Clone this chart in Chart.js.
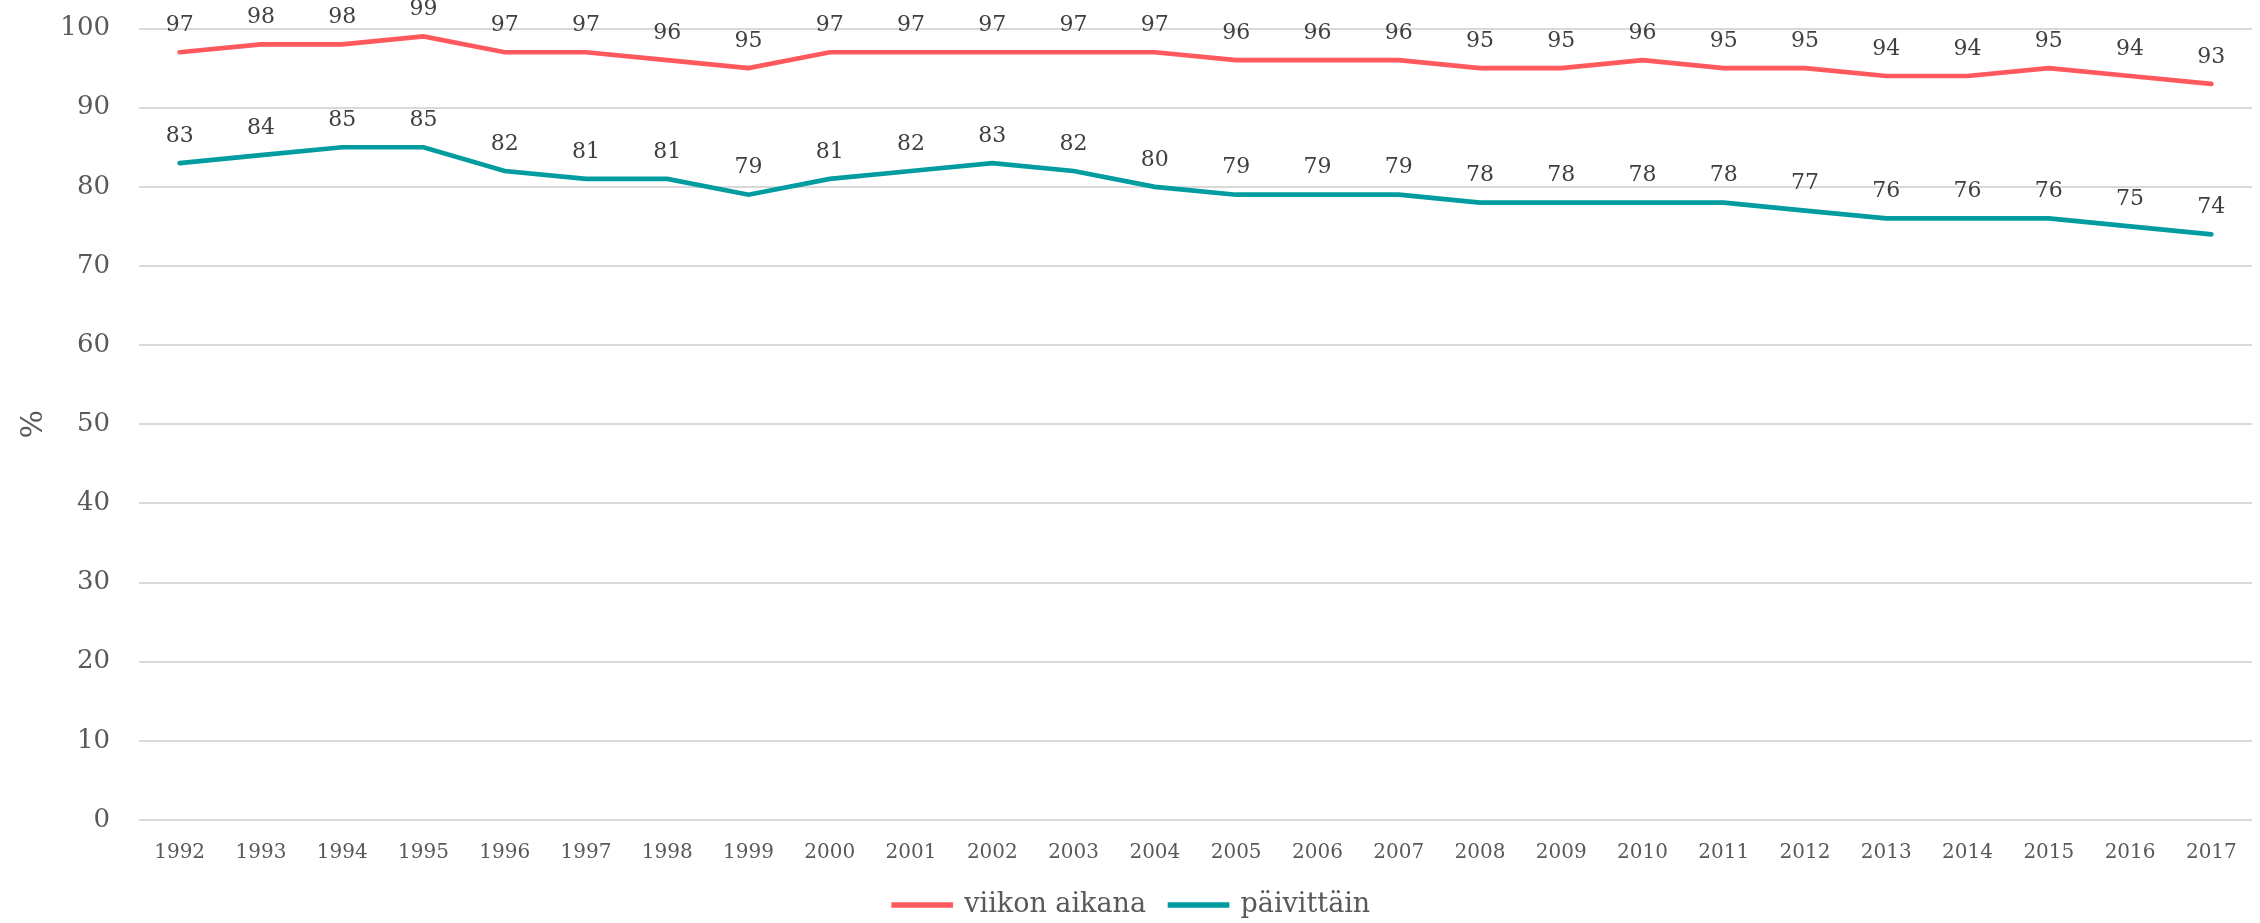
<!DOCTYPE html>
<html>
<head>
<meta charset="utf-8">
<script src="https://cdn.jsdelivr.net/npm/chart.js@4/dist/chart.umd.min.js"></script>
<style>
  html, body { margin: 0; padding: 0; background: #fff; }
  #wrap { width: 2260px; height: 923px; }
</style>
</head>
<body>
<div id="wrap"><canvas id="myChart"></canvas></div>
<script>
// Data
var vuodet = ['1992','1993','1994','1995','1996','1997','1998','1999','2000','2001','2002','2003','2004',
              '2005','2006','2007','2008','2009','2010','2011','2012','2013','2014','2015','2016','2017'];
var viikonAikana = [97,98,98,99,97,97,96,95,97,97,97,97,97,96,96,96,95,95,96,95,95,94,94,95,94,93];
var paivittain   = [83,84,85,85,82,81,81,79,81,82,83,82,80,79,79,79,78,78,78,78,77,76,76,76,75,74];
var yTicks = [0,10,20,30,40,50,60,70,80,90,100];

var numFont = 'DejaVu Serif';

// labels above every point
var valueLabels = {
  id: 'valueLabels',
  afterDatasetsDraw: function (chart) {
    var ctx = chart.ctx;
    ctx.save();
    ctx.font = '22px "' + numFont + '"';
    ctx.fillStyle = '#404040';
    ctx.textAlign = 'center';
    ctx.textBaseline = 'middle';
    chart.data.datasets.forEach(function (ds, i) {
      var meta = chart.getDatasetMeta(i);
      meta.data.forEach(function (pt, j) {
        ctx.fillText(String(ds.data[j]), pt.x, pt.y - 27);
      });
    });
    ctx.restore();
  }
};

// nudge the legend to where it sits in the original
var legendShift = {
  id: 'legendShift',
  afterLayout: function (chart) {
    var lg = chart.legend;
    lg.left += 6;
    lg.right += 6;
    lg.top += 5.5;
    lg.bottom += 5.5;
  }
};

var ctx = document.getElementById('myChart').getContext('2d');
var myChart = new Chart(ctx, {
  type: 'line',
  data: {
    labels: vuodet,
    datasets: [{
      label: 'viikon aikana',
      data: viikonAikana,
      borderColor: '#ff585d',
      backgroundColor: '#ff585d',
      borderWidth: 4.7,
      borderCapStyle: 'round',
      pointRadius: 0,
      tension: 0
    }, {
      label: 'päivittäin',
      data: paivittain,
      borderColor: '#009ca0',
      backgroundColor: '#009ca0',
      borderWidth: 4.7,
      borderCapStyle: 'round',
      pointRadius: 0,
      tension: 0
    }]
  },
  options: {
    responsive: true,
    maintainAspectRatio: false,
    animation: false,
    layout: { padding: { top: 28.5, left: 0, right: 8, bottom: 0 } },
    plugins: {
      tooltip: { enabled: false },
      legend: {
        position: 'bottom',
        labels: {
          boxWidth: 57,
          boxHeight: 1,
          padding: 24,
          color: '#595959',
          font: { family: numFont, size: 27 }
        }
      }
    },
    scales: {
      x: {
        offset: true,
        grid: { display: false },
        border: { display: false },
        ticks: {
          color: '#595959',
          font: { family: numFont, size: 20 },
          maxRotation: 0,
          autoSkip: false,
          padding: 13
        },
        afterFit: function (s) { s.height = 42; }
      },
      y: {
        min: 0,
        max: 100,
        afterBuildTicks: function (s) {
          s.ticks = yTicks.map(function (v) { return { value: v }; });
        },
        grid: { color: '#d9d9d9', lineWidth: 2, drawTicks: false },
        border: { display: false },
        ticks: {
          color: '#595959',
          font: { family: numFont, size: 26 },
          padding: 29
        },
        title: {
          display: true,
          text: '%',
          color: '#595959',
          font: { family: numFont, size: 30 },
          padding: { top: 16, bottom: 0 }
        },
        afterFit: function (s) {
          s.width = 139;
          s.paddingTop = 0;
          s.paddingBottom = 0;
        }
      }
    }
  },
  plugins: [valueLabels, legendShift]
});
</script>
</body>
</html>
